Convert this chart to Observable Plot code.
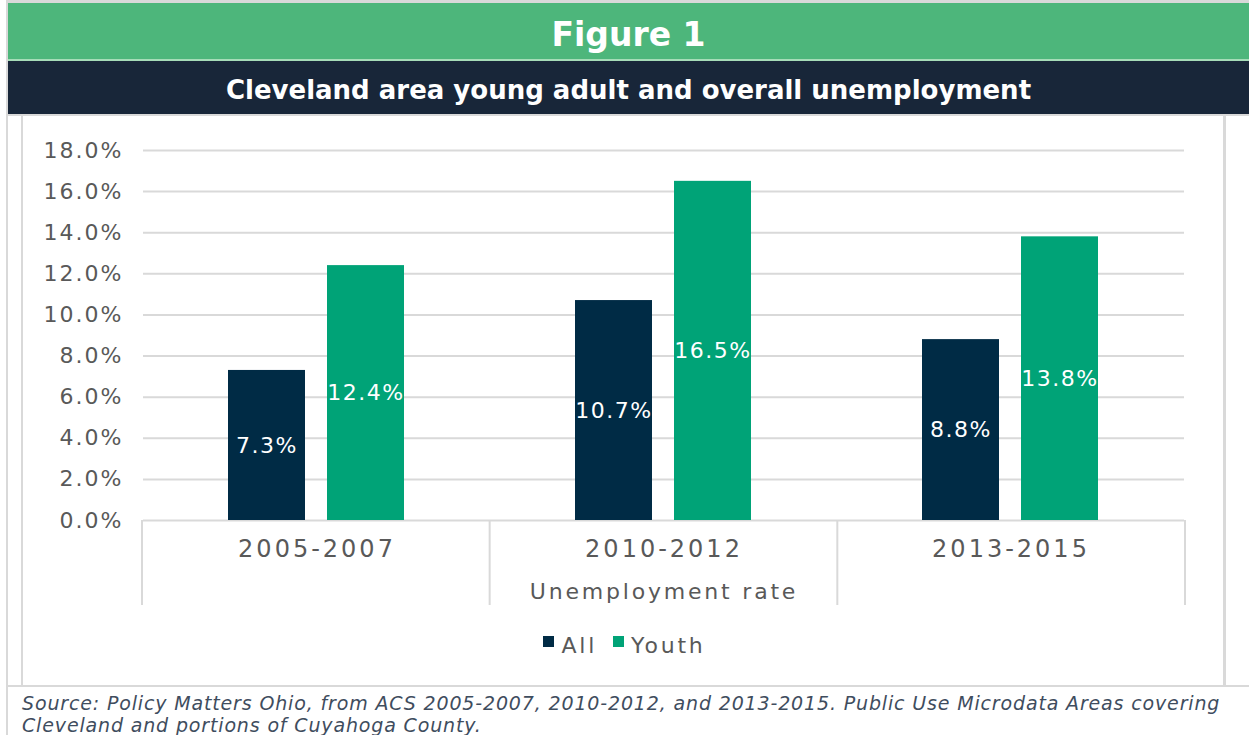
<!DOCTYPE html>
<html>
<head>
<meta charset="utf-8">
<script src="https://cdn.jsdelivr.net/npm/d3@7"></script>
<script src="https://cdn.jsdelivr.net/npm/@observablehq/plot@0.6"></script>
<style>
  html, body { margin: 0; padding: 0; background: #fff; overflow: hidden; width: 1249px; height: 735px; }
  body { font-family: "DejaVu Sans", sans-serif; }
  #page { position: relative; width: 1249px; height: 735px; overflow: hidden; }
  .abs { position: absolute; }
  .line { position: absolute; background: #d9d9d9; }
  #fig { left: 8px; top: 18px; width: 1241px; text-align: center; color: #fff; font-weight: bold; font-size: 33px; line-height: 33px; }
  #title { left: 8px; top: 77px; width: 1241px; text-align: center; color: #fff; font-weight: bold; font-size: 26px; line-height: 26px; }
  #chart { left: 23px; top: 116px; }
  #legend { left: 0px; top: 634px; width: 1249px; display: flex; justify-content: center; align-items: flex-start; font-size: 22px; line-height: 24px; color: #595959; letter-spacing: 2.8px; }
  #legend .item { display: flex; align-items: flex-start; margin: 0 8px; }
  #legend .sw { width: 11px; height: 11px; margin-top: 2px; margin-right: 7px; }
  #source { left: 22px; top: 692px; font-style: italic; font-size: 19px; line-height: 22px; letter-spacing: 0.85px; color: #3f4d5e; white-space: nowrap; }
  #chart [aria-label="y-axis tick label"], #chart [aria-label="y-axis tick label"] text { font-size: 22px; letter-spacing: 2px; }
  #chart [aria-label="fx-axis tick label"], #chart [aria-label="fx-axis tick label"] text { font-size: 24px; letter-spacing: 3px; }
  #chart [aria-label="fx-axis label"], #chart [aria-label="fx-axis label"] text { font-size: 22px; letter-spacing: 2.8px; }
  #chart [aria-label="text"] text { letter-spacing: 1.5px; }
</style>
</head>
<body>
<div id="page">
  <!-- frame lines -->
  <div class="line" style="left:6px;top:0;width:1243px;height:3px"></div>
  <div class="line" style="left:6px;top:0;width:2px;height:735px"></div>
  <div class="abs" style="left:8px;top:3px;width:1241px;height:56px;background:#4db67b"></div>
  <div class="abs" style="left:8px;top:59px;width:1241px;height:2px;background:#a6dcb8"></div>
  <div class="abs" style="left:8px;top:61px;width:1241px;height:53px;background:#182639"></div>
  <div class="line" style="left:6px;top:114px;width:1243px;height:2px"></div>
  <div class="line" style="left:21px;top:114px;width:2px;height:573px"></div>
  <div class="line" style="left:1223px;top:114px;width:3px;height:573px"></div>
  <div class="line" style="left:6px;top:685px;width:1243px;height:2px"></div>

  <div id="fig" class="abs">Figure 1</div>
  <div id="title" class="abs">Cleveland area young adult and overall unemployment</div>
  <div id="chart" class="abs"></div>
  <div id="legend" class="abs"></div>
  <div id="source" class="abs">Source: Policy Matters Ohio, from ACS 2005-2007, 2010-2012, and 2013-2015. Public Use Microdata Areas covering<br>Cleveland and portions of Cuyahoga County.</div>
</div>
<script>
// ---- data ----
const periods = ["2005-2007", "2010-2012", "2013-2015"];
const series = ["All", "Youth"];
const allValues = [7.3, 10.7, 8.8];
const youthValues = [12.4, 16.5, 13.8];
const yTicks = [0, 2, 4, 6, 8, 10, 12, 14, 16, 18];
const seriesColors = ["#002b45", "#00a377"];
const axisTitle = "Unemployment rate";

const data = [];
periods.forEach((p, i) => {
  data.push({period: p, series: series[0], value: allValues[i]});
  data.push({period: p, series: series[1], value: youthValues[i]});
});

const pct = d => d.toFixed(1) + "%";

const chart = Plot.plot({
  width: 1200,
  height: 504,
  marginLeft: 119,
  marginRight: 38,
  marginTop: 34,
  marginBottom: 100,
  style: {fontFamily: "DejaVu Sans", color: "#595959", background: "transparent", overflow: "visible"},
  fx: {domain: periods, padding: 0, axis: "bottom", tickSize: 0, tickPadding: 19,
       label: axisTitle, labelAnchor: "center", labelOffset: 78},
  x: {domain: series, paddingInner: 0.22, paddingOuter: 0.85, axis: null},
  y: {domain: [0, 18], ticks: yTicks, tickFormat: pct, tickSize: 0, tickPadding: 20, label: null},
  color: {domain: series, range: seriesColors},
  marks: [
    Plot.ruleY(yTicks, {stroke: "#d9d9d9", strokeWidth: 2}),
    Plot.barY(data, {fx: "period", x: "series", y: "value", fill: "series"}),
    Plot.text(data, {fx: "period", x: "series", y: d => d.value / 2, text: d => pct(d.value), fill: "white", fontSize: 22})
  ]
});

// category separators below the baseline, at the facet band edges
const fxs = chart.scale("fx");
const ys = chart.scale("y");
const band = d3.scaleBand().domain(fxs.domain).range(fxs.range)
  .paddingInner(fxs.paddingInner ?? 0).paddingOuter(fxs.paddingOuter ?? 0).align(fxs.align ?? 0.5);
const edges = band.domain().map(d => band(d));
edges.push(band(band.domain()[band.domain().length - 1]) + band.bandwidth());
const yLin = d3.scaleLinear().domain(ys.domain).range(ys.range);
const y0 = yLin(0);
d3.select(chart).append("g").attr("aria-label", "separators")
  .selectAll("line").data(edges).join("line")
  .attr("x1", d => d).attr("x2", d => d)
  .attr("y1", y0).attr("y2", y0 + 85)
  .attr("stroke", "#d9d9d9").attr("stroke-width", 2);

document.getElementById("chart").appendChild(chart);

// legend
const legend = d3.select("#legend");
series.forEach((s, i) => {
  const item = legend.append("div").attr("class", "item");
  item.append("div").attr("class", "sw").style("background", seriesColors[i]);
  item.append("span").text(s);
});
</script>
</body>
</html>
